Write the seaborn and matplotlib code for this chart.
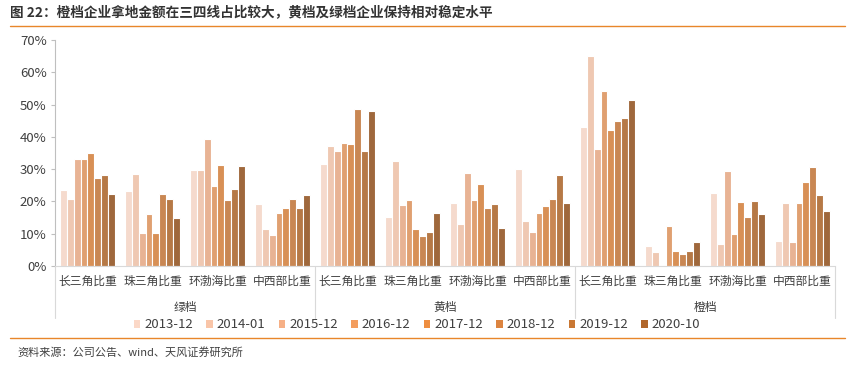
import numpy as np
import pandas as pd
import matplotlib
matplotlib.use("Agg")
import matplotlib.pyplot as plt
import matplotlib.transforms as mtransforms
from matplotlib.patches import Patch
import seaborn as sns

tiers = ["绿档", "黄档", "橙档"]
regions = ["长三角比重", "珠三角比重", "环渤海比重", "中西部比重"]
series = ["2013-12", "2014-01", "2015-12", "2016-12", "2017-12", "2018-12", "2019-12", "2020-10"]

# values (%) per group: order tiers x regions, each list = 8 series
green_yrd = [23.5, 20.7, 33.1, 33.1, 34.9, 27.3, 28.2, 22.3]
green_prd = [23.2, 28.5, 10.1, 16.1, 10.1, 22.3, 20.6, 14.9]
green_bohai = [29.6, 29.6, 39.3, 24.9, 31.3, 20.3, 23.8, 31.1]
green_mid = [19.2, 11.6, 9.7, 16.5, 18.0, 20.8, 17.9, 21.9]
yellow_yrd = [31.6, 37.2, 35.6, 38.2, 37.8, 48.5, 35.6, 48.1]
yellow_prd = [15.2, 32.4, 18.9, 20.3, 11.5, 9.2, 10.5, 16.4]
yellow_bohai = [19.5, 12.9, 28.8, 20.3, 25.4, 18.1, 19.2, 11.9]
yellow_mid = [30.0, 13.9, 10.5, 16.4, 18.6, 20.6, 28.2, 19.4]
orange_yrd = [43.0, 65.1, 36.3, 54.2, 42.1, 44.8, 45.9, 51.5]
orange_prd = [6.1, 4.4, np.nan, 12.5, 4.7, 3.6, 4.6, 7.4]
orange_bohai = [22.5, 6.9, 29.4, 10.0, 19.8, 15.2, 20.1, 16.1]
orange_mid = [7.8, 19.5, 7.4, 19.5, 26.1, 30.7, 22.1, 17.0]

groups = [green_yrd, green_prd, green_bohai, green_mid,
          yellow_yrd, yellow_prd, yellow_bohai, yellow_mid,
          orange_yrd, orange_prd, orange_bohai, orange_mid]

colors = ["#FBD8C7", "#F9C5A8", "#F6B086", "#F39D5E", "#EE8E40", "#DC8440", "#C97733", "#B0662B"]

rows = []
for gi, vals in enumerate(groups):
    t = tiers[gi // 4]
    r = regions[gi % 4]
    for s, v in zip(series, vals):
        rows.append({"group": f"{t}|{r}", "series": s, "value": v})
df = pd.DataFrame(rows)
order = [f"{tiers[i // 4]}|{regions[i % 4]}" for i in range(12)]

sns.set_theme(style="white")
plt.rcParams["font.family"] = ["Noto Sans CJK SC", "DejaVu Sans"]

fig = plt.figure(figsize=(8.53, 3.67), dpi=100)
ax = fig.add_axes([55 / 853, 1 - 266 / 367, 780 / 853, 226 / 367])

sns.barplot(data=df, x="group", y="value", hue="series", order=order,
            hue_order=series, palette=colors, width=0.86, ax=ax,
            edgecolor="white", linewidth=0.8, legend=False)

ax.set_ylim(0, 70)
ax.set_xlim(-0.5, 11.5)
ax.set_yticks(np.arange(0, 71, 10))
ax.set_yticklabels([f"{v}%" for v in range(0, 71, 10)], fontsize=9.5, color="#404040")
ax.set_xticks(range(12))
ax.set_xticklabels([regions[i % 4] for i in range(12)], fontsize=8.5, color="#404040")
ax.tick_params(axis="y", which="both", left=True, length=3, width=0.8, color="#BFBFBF", pad=3)
ax.tick_params(axis="x", length=0, pad=6)
ax.set_xlabel("")
ax.set_ylabel("")
for sp in ["top", "right"]:
    ax.spines[sp].set_visible(False)
ax.spines["left"].set_color("#BFBFBF")
ax.spines["left"].set_linewidth(0.8)
ax.spines["bottom"].set_color("#D9D9D9")
ax.spines["bottom"].set_linewidth(0.8)

# tier separators and labels
trans = mtransforms.blended_transform_factory(ax.transData, fig.transFigure)
for xb in [-0.5, 3.5, 7.5, 11.5]:
    ax.plot([xb, xb], [1 - 266 / 367, 1 - 318 / 367], color="#D9D9D9", lw=0.8,
            transform=trans, clip_on=False)
for i, t in enumerate(tiers):
    ax.text(1.5 + 4 * i, 1 - 307 / 367, t, transform=trans, ha="center", va="center",
            fontsize=8.5, color="#404040")

# legend
handles = [Patch(facecolor=c, edgecolor="none") for c in colors]
fig.legend(handles, series, loc="center", bbox_to_anchor=(417 / 853, 1 - 325 / 367),
           ncol=8, frameon=False, fontsize=9.5, handlelength=0.5, handleheight=0.6,
           handletextpad=0.3, columnspacing=1.0, labelcolor="#404040")

# title and lines
fig.text(10 / 853, 1 - 12 / 367, "图 22：橙档企业拿地金额在三四线占比较大，黄档及绿档企业保持相对稳定水平",
         fontsize=9.8, fontweight="bold", color="#333333", ha="left", va="center")
fig.add_artist(plt.Line2D([10 / 853, 845 / 853], [1 - 26 / 367, 1 - 26 / 367],
                          color="#E8862A", lw=1.0, transform=fig.transFigure))
fig.add_artist(plt.Line2D([10 / 853, 845 / 853], [1 - 338 / 367, 1 - 338 / 367],
                          color="#E8862A", lw=1.0, transform=fig.transFigure))
fig.text(17 / 853, 1 - 352 / 367, "资料来源：公司公告、wind、天风证券研究所",
         fontsize=8, color="#404040", ha="left", va="center")

fig.savefig("out.png", dpi=100)
